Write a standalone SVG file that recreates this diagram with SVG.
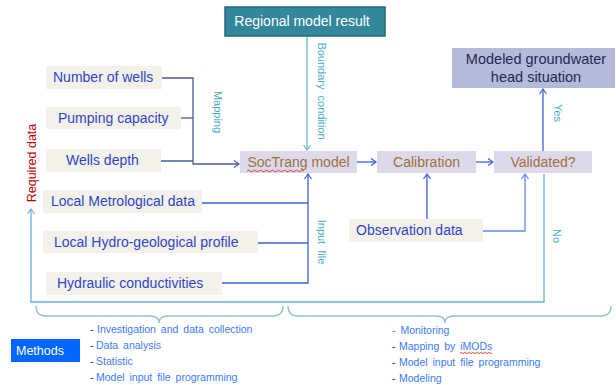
<svg xmlns="http://www.w3.org/2000/svg" width="616" height="385" viewBox="0 0 616 385">
<style>
text{font-family:"Liberation Sans",Arial,sans-serif}
.in{fill:#F3F1EA}
.it{fill:#2F45C8;font-size:14px}
.proc{fill:#DCDAEA}
.pt{fill:#A0703C;font-size:14px}
.lab{fill:#4AAFC4;font-size:11px;word-spacing:3px}
.c{fill:none;stroke-width:1.3}
.map{stroke:#4A5C9C}
.blue{stroke:#3A60DA}
.lblue{stroke:#5B8BEF}
.teal{stroke:#6BB5C6}
.no{stroke:#6AAEDC}
.brace{fill:none;stroke:#8EC3CF;stroke-width:1.3}
.lt{font-size:10.5px;fill:#3D7BF5;word-spacing:2px}
.dash{fill:#333}
.wavy{fill:none;stroke:#E02020;stroke-width:0.8}
</style>
<defs>
<marker id="a1" markerWidth="10" markerHeight="10" refX="8" refY="5" orient="auto" markerUnits="userSpaceOnUse"><path d="M3,1.5 L8,5 L3,8.5" fill="none" stroke="#4A5C9C" stroke-width="1.2"/></marker>
<marker id="a2" markerWidth="10" markerHeight="10" refX="8" refY="5" orient="auto" markerUnits="userSpaceOnUse"><path d="M3,1.5 L8,5 L3,8.5" fill="none" stroke="#3A60DA" stroke-width="1.2"/></marker>
<marker id="a3" markerWidth="10" markerHeight="10" refX="8" refY="5" orient="auto" markerUnits="userSpaceOnUse"><path d="M3,1.5 L8,5 L3,8.5" fill="none" stroke="#6BB5C6" stroke-width="1.2"/></marker>
<marker id="a4" markerWidth="10" markerHeight="10" refX="8" refY="5" orient="auto" markerUnits="userSpaceOnUse"><path d="M3,1.5 L8,5 L3,8.5" fill="none" stroke="#6AAEDC" stroke-width="1.2"/></marker>
<marker id="a5" markerWidth="10" markerHeight="10" refX="8" refY="5" orient="auto" markerUnits="userSpaceOnUse"><path d="M3,1.5 L8,5 L3,8.5" fill="none" stroke="#5B8BEF" stroke-width="1.2"/></marker>
</defs>
<rect width="616" height="385" fill="#fff"/>

<g id="connectors">
<path class="c map" d="M155,78 H193 V164 H239" marker-end="url(#a1)"/>
<path class="c map" d="M181,118 H193"/>
<path class="c map" d="M160,161 H193"/>
<path class="c teal" d="M307,36 V150" marker-end="url(#a3)"/>
<path class="c blue" d="M202,203 H308"/>
<path class="c blue" d="M258,243 H308"/>
<path class="c blue" d="M222,283 H308 V174" marker-end="url(#a2)"/>
<path class="c blue" d="M357,162 H376" marker-end="url(#a2)"/>
<path class="c blue" d="M476,162 H493" marker-end="url(#a2)"/>
<path class="c blue" d="M427,219 V174" marker-end="url(#a2)"/>
<path class="c lblue" d="M483,231 H525 V174" marker-end="url(#a5)"/>
<path class="c blue" d="M543,151 V89" marker-end="url(#a2)"/>
<path class="c no" d="M544,174 V302 H31 V209" marker-end="url(#a4)"/>
<text class="lab" transform="translate(214,112) rotate(90)" text-anchor="middle">Mapping</text>
<text class="lab" transform="translate(318,91) rotate(90)" text-anchor="middle">Boundary condition</text>
<text class="lab" transform="translate(318,242) rotate(90)" text-anchor="middle">Input file</text>
<text class="lab" transform="translate(554,113) rotate(90)" text-anchor="middle">Yes</text>
<text class="lab" transform="translate(553,236) rotate(90)" text-anchor="middle">No</text>
</g>

<g id="regional">
<rect x="225" y="7" width="160" height="29" fill="#33879B" stroke="#256A7A" stroke-width="1.5"/>
<text x="302" y="26" fill="#fff" font-size="14" text-anchor="middle">Regional model result</text>
</g>

<g id="wells"><rect class="in" x="46" y="66" width="116" height="23"/><text class="it" x="53" y="82">Number of wells</text></g>
<g id="pumping"><rect class="in" x="46" y="107" width="135" height="22"/><text class="it" x="58" y="123">Pumping capacity</text></g>
<g id="depth"><rect class="in" x="46" y="149" width="115" height="23"/><text class="it" x="66" y="165">Wells depth</text></g>
<g id="metro"><rect class="in" x="43" y="190" width="159" height="23"/><text class="it" x="51" y="206">Local Metrological data</text></g>
<g id="hydro"><rect class="in" x="43" y="231" width="215" height="22"/><text class="it" x="54" y="247">Local Hydro-geological profile</text></g>
<g id="hydraulic"><rect class="in" x="46" y="272" width="176" height="23"/><text class="it" x="57" y="288">Hydraulic conductivities</text></g>
<g id="observation"><rect class="in" x="349" y="219" width="134" height="23"/><text class="it" x="356" y="235">Observation data</text></g>

<g id="soctrang"><rect class="proc" x="240" y="151" width="117" height="22"/><text class="pt" x="298.5" y="167" text-anchor="middle">SocTrang model</text>
<path class="wavy" d="M247,171 q1.5,-1.5 3,0 t3,0 t3,0 t3,0 t3,0 t3,0 t3,0 t3,0 t3,0 t3,0 t3,0 t3,0 t3,0 t3,0 t3,0 t3,0 t3,0 t3,0 t3,0"/></g>
<g id="calibration"><rect class="proc" x="377" y="151" width="99" height="22"/><text class="pt" x="426.5" y="167" text-anchor="middle">Calibration</text></g>
<g id="validated"><rect class="proc" x="494" y="151" width="98" height="22"/><text class="pt" x="543" y="167" text-anchor="middle">Validated?</text></g>
<g id="modeled"><rect x="452" y="48" width="163" height="40" fill="#B4BBDA"/>
<text x="536" y="64" fill="#1F2A55" font-size="14.5" text-anchor="middle">Modeled groundwater</text>
<text x="536" y="82" fill="#1F2A55" font-size="14.5" text-anchor="middle">head situation</text></g>

<g id="required"><text transform="translate(36,163) rotate(-90)" text-anchor="middle" fill="#C00000" font-size="12.5">Required data</text></g>

<g id="braces">
<path class="brace" d="M36,306 Q36,316 46,316 H150 Q159,316 159,323 Q159,316 168,316 H273 Q283,316 283,306"/>
<path class="brace" d="M288,306 Q288,316 298,316 H436 Q445,316 445,323 Q445,316 454,316 H601 Q611,316 611,306"/>
</g>

<g id="methods"><rect x="11" y="339" width="69" height="23" fill="#0066FF"/><text x="16" y="355" fill="#fff" font-size="12.5">Methods</text></g>

<g id="list-left">
<text class="dash" x="90" y="333" font-size="10.5">-</text><text class="lt" x="97" y="333">Investigation and data collection</text>
<text class="dash" x="90" y="349" font-size="10.5">-</text><text class="lt" x="96" y="349">Data analysis</text>
<text class="dash" x="90" y="365" font-size="10.5">-</text><text class="lt" x="96" y="365">Statistic</text>
<text class="dash" x="90" y="381" font-size="10.5">-</text><text class="lt" x="96" y="381">Model input file programming</text>
</g>
<g id="list-right">
<text class="lt" x="392" y="334">- Monitoring</text>
<text class="dash" x="392" y="350" font-size="10.5">-</text><text class="lt" x="399" y="350">Mapping by iMODs</text>
<path class="wavy" d="M460,353 q1,-1 2,0 t2,0 t2,0 t2,0 t2,0 t2,0 t2,0 t2,0 t2,0 t2,0 t2,0 t2,0 t2,0 t2,0 t2,0 t2,0"/>
<text class="dash" x="392" y="366" font-size="10.5">-</text><text class="lt" x="399" y="366">Model input file programming</text>
<text class="dash" x="392" y="382" font-size="10.5">-</text><text class="lt" x="399" y="382">Modeling</text>
</g>
</svg>
